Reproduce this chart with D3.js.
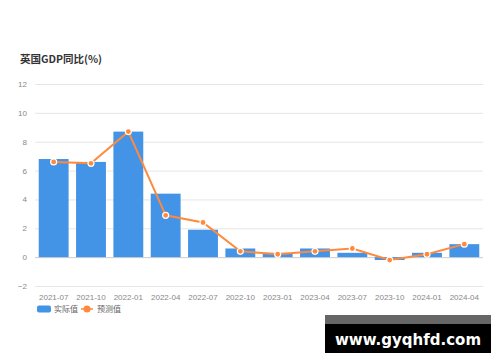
<!DOCTYPE html>
<html>
<head>
<meta charset="utf-8">
<script src="https://cdn.jsdelivr.net/npm/d3@7"></script>
<style>
    body { margin: 0; background: #fff; }
    svg { display: block; font-family: "Noto Sans CJK SC", "Noto Sans", sans-serif; }
    .grid-line { stroke: #e6e6e6; stroke-width: 1; }
    .tick text { fill: #888; font-size: 8px; }
</style>
</head>
<body>
<div id="chart"></div>
<script>
'use strict'
var categories = ["2021-07", "2021-10", "2022-01", "2022-04", "2022-07", "2022-10",
    "2023-01", "2023-04", "2023-07", "2023-10", "2024-01", "2024-04"];
var actualValues = [6.8, 6.6, 8.7, 4.4, 1.9, 0.6, 0.3, 0.6, 0.3, -0.2, 0.3, 0.9];
var forecastValues = [6.6, 6.5, 8.7, 2.9, 2.4, 0.4, 0.2, 0.4, 0.6, -0.2, 0.2, 0.9];
var yTicks = [-2, 0, 2, 4, 6, 8, 10, 12];
var titleText = "英国GDP同比(%)";
var legendNames = ["实际值", "预测值"];

var _width = 500, _height = 362;
var _margins = {top: 84, left: 35, right: 17, bottom: 76};
var barColor = "#4393e6", lineColor = "#ff8a3d";

var svg = d3.select("#chart").append("svg")
    .attr("width", _width)
    .attr("height", _height);

var xScale = d3.scaleBand()
    .domain(categories)
    .range([_margins.left, _width - _margins.right])
    .paddingInner(0.2)
    .paddingOuter(0.1);

var yScale = d3.scaleLinear()
    .domain([-2, 12])
    .range([_height - _margins.bottom, _margins.top]);

// title
svg.append("text")
    .attr("x", 20)
    .attr("y", 63)
    .attr("font-size", 10.5)
    .attr("font-weight", "bold")
    .attr("fill", "#333")
    .text(titleText);

// y axis with grid lines
var yAxis = d3.axisLeft(yScale).tickValues(yTicks).tickSize(0).tickPadding(8);
var yAxisG = svg.append("g")
    .attr("class", "y axis")
    .attr("transform", "translate(" + _margins.left + ",0)")
    .call(yAxis);
yAxisG.select(".domain").remove();
yAxisG.selectAll("g.tick")
    .append("line")
    .classed("grid-line", true)
    .attr("x1", 0)
    .attr("x2", _width - _margins.right - _margins.left);
yAxisG.selectAll("g.tick")
    .filter(function (d) { return d === 0; })
    .select("line.grid-line")
    .style("stroke", "#ccc");

// x axis
var xAxis = d3.axisBottom(xScale).tickSize(0).tickPadding(8);
var xAxisG = svg.append("g")
    .attr("class", "x axis")
    .attr("transform", "translate(0," + yScale(-2) + ")")
    .call(xAxis);
xAxisG.select(".domain").remove();

// bars
svg.append("g").selectAll("rect")
    .data(actualValues)
    .enter()
    .append("rect")
    .attr("x", function (d, i) { return xScale(categories[i]); })
    .attr("y", function (d) { return yScale(Math.max(0, d)); })
    .attr("width", xScale.bandwidth())
    .attr("height", function (d) { return Math.abs(yScale(d) - yScale(0)); })
    .attr("fill", barColor);

// forecast line
var line = d3.line()
    .x(function (d, i) { return xScale(categories[i]) + xScale.bandwidth() / 2; })
    .y(function (d) { return yScale(d); });

svg.append("path")
    .datum(forecastValues)
    .attr("d", line)
    .attr("fill", "none")
    .attr("stroke", lineColor)
    .attr("stroke-width", 2);

svg.append("g").selectAll("circle")
    .data(forecastValues)
    .enter()
    .append("circle")
    .attr("cx", function (d, i) { return xScale(categories[i]) + xScale.bandwidth() / 2; })
    .attr("cy", function (d) { return yScale(d); })
    .attr("r", 3)
    .attr("fill", lineColor)
    .attr("stroke", "#fff")
    .attr("stroke-width", 1.2);

// legend
var legendG = svg.append("g").attr("transform", "translate(37,309)");
legendG.append("rect")
    .attr("x", 0).attr("y", -3.5)
    .attr("width", 14).attr("height", 7)
    .attr("rx", 2)
    .attr("fill", barColor);
legendG.append("text")
    .attr("x", 17).attr("y", 3)
    .attr("font-size", 8).attr("fill", "#666")
    .text(legendNames[0]);
legendG.append("line")
    .attr("x1", 44).attr("x2", 56)
    .attr("y1", 0).attr("y2", 0)
    .attr("stroke", lineColor).attr("stroke-width", 1.5);
legendG.append("circle")
    .attr("cx", 50).attr("cy", 0).attr("r", 3.5)
    .attr("fill", lineColor);
legendG.append("text")
    .attr("x", 60).attr("y", 3)
    .attr("font-size", 8).attr("fill", "#666")
    .text(legendNames[1]);

// site banner
var bannerG = svg.append("g").attr("transform", "translate(325,315)");
bannerG.append("rect")
    .attr("width", 166).attr("height", 38)
    .attr("fill", "#000");
bannerG.append("rect")
    .attr("width", 166).attr("height", 9)
    .attr("fill", "#666");
bannerG.append("text")
    .attr("x", 83).attr("y", 30)
    .attr("text-anchor", "middle")
    .attr("font-family", "'DejaVu Sans', sans-serif")
    .attr("font-weight", "bold")
    .attr("font-size", 15)
    .attr("fill", "#fff")
    .text("www.gyqhfd.com");
</script>
</body>
</html>
